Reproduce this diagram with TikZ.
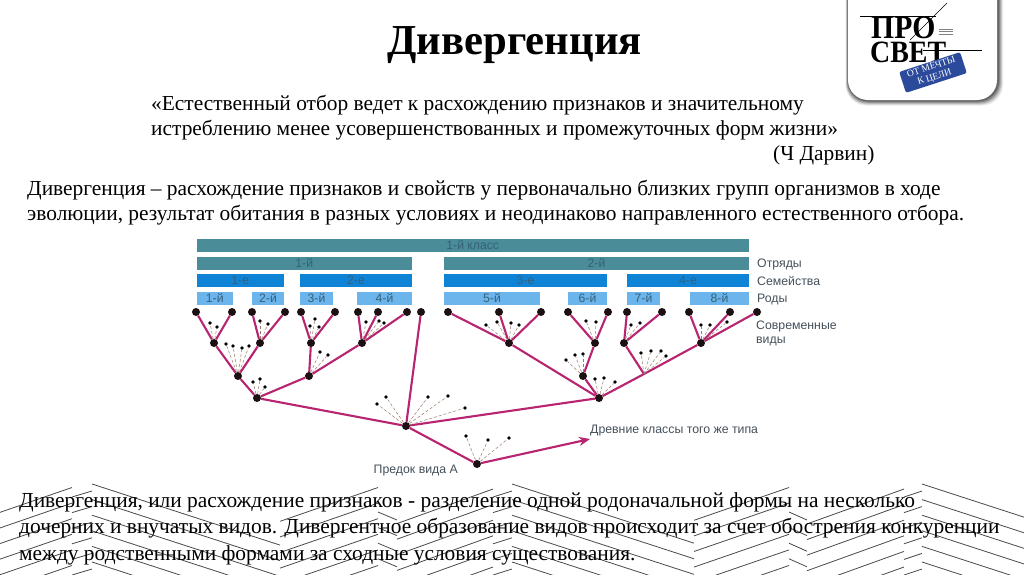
\documentclass[tikz,border=0pt]{standalone}
\usepackage{fontspec}
\setmainfont{Liberation Serif}
\newfontfamily\sansf{Liberation Sans}
\usetikzlibrary{arrows.meta}
\definecolor{tealbar}{HTML}{4A8C98}
\definecolor{bluebar}{HTML}{0F84D6}
\definecolor{lightbar}{HTML}{6BB5EC}
\definecolor{branch}{HTML}{B8246F}
\definecolor{darkdot}{HTML}{1C1012}
\definecolor{dashc}{HTML}{9A7A6A}
\definecolor{hatchc}{HTML}{4A4A4A}
\definecolor{labelc}{HTML}{45505A}
\definecolor{barlabel}{HTML}{35607A}
\definecolor{stampc}{HTML}{2B4A9B}
\tikzset{
  x=1pt,y=-1pt,
  hatch/.style={draw=hatchc,line width=0.8pt},
  barbox/.style={draw=none,inner sep=0,outer sep=0,text height=8.8pt,text depth=0pt,font=\sansf\fontsize{12.2}{14}\selectfont,text=barlabel},
  tealb/.style={fill=tealbar},
  blueb/.style={fill=bluebar},
  lightb/.style={fill=lightbar},
  bigdot/.style={circle,fill=darkdot,inner sep=0,minimum size=8pt},
  smalldot/.style={circle,fill=black,inner sep=0,minimum size=3.6pt},
  edge/.style={draw=branch,line width=2.1pt},
  thinlink/.style={draw=dashc,line width=0.5pt,densely dashed},
  sidelabel/.style={anchor=base west,inner sep=0,font=\sansf\fontsize{12.3}{14}\selectfont,text=labelc},
  quotetext/.style={anchor=base west,inner sep=0,font=\fontsize{21.4}{25}\selectfont},
}
\newcommand{\barnode}[7]{\node[barbox,#2,minimum width=#4pt-#3pt,minimum height=#6pt-#5pt] (#1) at ({(#3+#4)/2},{(#5+#6)/2}) {#7};}
\begin{document}
\begin{tikzpicture}
\useasboundingbox (0,0) rectangle (1024,574);
\fill[white] (0,0) rectangle (1024,574);
% hatching
\begin{scope}
\clip (0,0) rectangle (1024,574);
\foreach \k in {0,...,5}{
  \foreach \xa/\xb in {92/280,512/694,922/1112}
    \draw[hatch] (\xa,{484+15.6*\k}) -- (\xb,{484+15.6*\k+0.325*(\xb-\xa)});
  \foreach \xa/\xb in {-30/72,280/378,694/789}
    \draw[hatch] (\xa,{487.5+15.6*\k+0.345*(\xb-\xa)}) -- (\xb,{487.5+15.6*\k});
  \foreach \xa/\xb in {397/493,807/904}
    \draw[hatch] (\xa,{489+15.6*\k+0.36*(\xb-\xa)}) -- (\xb,{489+15.6*\k});
  \foreach \xa/\xb in {72/92,493/512,904/922}
    \draw[hatch] (\xa,{497+15.6*\k}) -- (\xb,{491+15.6*\k});
}
\foreach \k in {0,...,3}{
  \foreach \xa/\xb in {378/397,789/807}
    \draw[hatch] (\xa,{512+15.6*\k}) -- (\xb,{520+15.6*\k});
}
\end{scope}
% logo
\foreach \o/\op in {5/0.08,4/0.12,3/0.16,2/0.2,1/0.25}
  \fill[black,opacity=\op,rounded corners=21pt] ({848-\o/2},-30) rectangle ({998+\o},{100.5+\o});
\fill[white,rounded corners=20pt] (848,-30) rectangle (997,100);
\node[anchor=base west,inner sep=0,xscale=0.9,font=\bfseries\fontsize{33}{33}\selectfont] (pro) at (871,38.5) {ПРО};
\node[anchor=base west,inner sep=0,xscale=0.9,font=\bfseries\fontsize{31}{31}\selectfont] (svet) at (870,62) {СВЕТ};
\draw[line width=0.5pt] (860,16) -- (936,16);
\draw[line width=0.5pt] (910,40) -- (947,3);
\draw[line width=0.5pt] (923,50) -- (982,50);
\foreach \yy in {29,31.5,34}
  \draw[gray,line width=0.8pt] (939,\yy) -- (953,\yy);
\node[fill=stampc,rounded corners=2pt,rotate=18,minimum width=64pt,minimum height=22pt,inner sep=0,text=white,align=center,font=\fontsize{9.6}{10.5}\selectfont] (stamp) at (933,72.5) {ОТ МЕЧТЫ\\К ЦЕЛИ};
% texts
\node[inner sep=0,font=\bfseries\fontsize{42.7}{48}\selectfont] (title) at (514.5,45.5) {Дивергенция};
\node[quotetext] (q1) at (151,110.5) {«Естественный отбор ведет к расхождению признаков и значительному};
\node[quotetext] (q2) at (151,135.5) {истреблению менее усовершенствованных и промежуточных форм жизни»};
\node[quotetext] (q3) at (773,160) {(Ч Дарвин)};
\node[quotetext] (d1) at (27,195) {Дивергенция – расхождение признаков и свойств у первоначально близких групп организмов в ходе};
\node[quotetext] (d2) at (27,220) {эволюции, результат обитания в разных условиях и неодинаково направленного естественного отбора.};
\node[quotetext] (b1t) at (19,507) {Дивергенция, или расхождение признаков - разделение одной родоначальной формы на несколько};
\node[quotetext] (b2t) at (19,533) {дочерних и внучатых видов. Дивергентное образование видов происходит за счет обострения конкуренции};
\node[quotetext] (b3t) at (19,560) {между родственными формами за сходные условия существования.};
% bars
\barnode{cls}{tealb}{196.5}{749}{239}{252}{1-й класс}
\barnode{o1}{tealb}{196.5}{412}{257}{269.5}{1-й}
\barnode{o2}{tealb}{444}{749}{257}{269.5}{2-й}
\barnode{f1}{blueb}{196.5}{284}{274}{287}{1-е}
\barnode{f2}{blueb}{300}{412}{274}{287}{2-е}
\barnode{f3}{blueb}{444}{607}{274}{287}{3-е}
\barnode{f4}{blueb}{627}{749}{274}{287}{4-е}
\barnode{g1}{lightb}{196.5}{233}{292}{305}{1-й}
\barnode{g2}{lightb}{252}{284}{292}{305}{2-й}
\barnode{g3}{lightb}{300}{333}{292}{305}{3-й}
\barnode{g4}{lightb}{357}{412}{292}{305}{4-й}
\barnode{g5}{lightb}{444}{540}{292}{305}{5-й}
\barnode{g6}{lightb}{568}{607}{292}{305}{6-й}
\barnode{g7}{lightb}{627}{660}{292}{305}{7-й}
\barnode{g8}{lightb}{690}{749}{292}{305}{8-й}
\node[sidelabel] (lo) at (757,267) {Отряды};
\node[sidelabel] (ls) at (757,285) {Семейства};
\node[sidelabel] (lr) at (757,302) {Роды};
\node[sidelabel] (lc) at (756,329) {Современные};
\node[sidelabel] (lv) at (756,343) {виды};
\node[sidelabel] (la) at (590,433) {Древние классы того же типа};
\node[sidelabel] (lp) at (373.5,473) {Предок вида А};
% tree nodes
\foreach \n/\x in {t1/196,t2/232,t3/252,t4/285,t5/301,t6/335,t7/358,t8/378,t9/407,t10/421,t11/448,t12/499,t13/541,t14/568,t15/608,t16/627,t17/662,t18/689,t19/730,t20/757}
  \node[bigdot] (\n) at (\x,312) {};
\foreach \n/\x/\y in {a1/214/343,a2/260/343,a3/311/343,a4/362/343,a5/509/343,a6/595/343,a7/624/343,a8/701/343,b1/238/376,b2/309/376,b3/583/376,c/257/398,d/599/398,r/406/426,anc/477/464}
  \node[bigdot] (\n) at (\x,\y) {};
\coordinate (j) at (644,374);
\coordinate (tipend) at (590,439);
% branches
\foreach \a/\b in {a1/t1,a1/t2,a2/t3,a2/t4,a3/t5,a3/t6,a4/t7,a4/t8,a4/t9,b1/a1,b1/a2,b2/a3,b2/a4,c/b1,c/b2,r/c,r/t10,r/d,a5/t11,a5/t12,a5/t13,d/a5,d/b3,b3/a6,a6/t14,a6/t15,d/j,j/a8,j/a7,a7/t16,a7/t17,a8/t18,a8/t19,a8/t20,r/anc}
  \draw[edge] (\a) -- (\b);
\draw[edge,-{Stealth[length=11pt,width=9pt]}] (anc) -- (tipend);
% small species dots
\foreach \p/\x/\y [count=\i] in {a1/210/323,a1/217/327,a2/260/321,a2/268/324,b1/226/344,b1/233/346,b1/242/348,b1/249/346,c/253/382,c/260/379,c/265/387,a3/310/326,a3/315/319,a3/319/327,a4/366/322,a4/379/321,a4/384/323,b2/320/352,b2/328/355,a5/486/325,a5/497/322,a5/511/323,a5/519/325,a6/586/321,a6/596/322,a7/631/325,a7/640/323,a8/701/325,a8/710/325,a8/727/322,b3/566/360,b3/575/355,b3/583/354,d/595/379,d/604/378,d/615/382,j/641/353,j/651/351,j/661/351,j/666/356,r/377/404,r/386/397,r/428/397,r/448/396,r/465/408,anc/466/436,anc/488/440,anc/509/438}{
  \node[smalldot] (s\i) at (\x,\y) {};
  \draw[thinlink] (\p) -- (s\i);
}
\end{tikzpicture}
\end{document}
